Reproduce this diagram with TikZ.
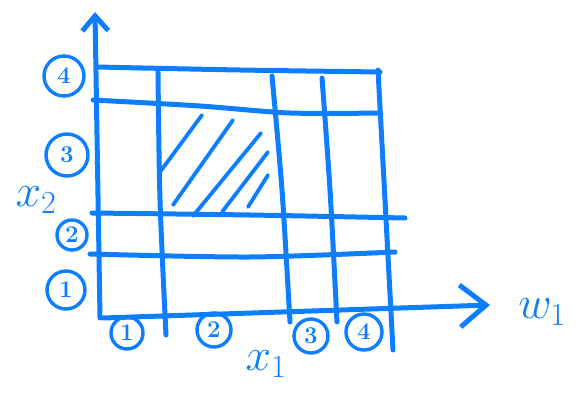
\RequirePackage{fix-cm}
\documentclass[tikz,border=0pt]{standalone}
\usepackage{tikz}
\usetikzlibrary{arrows.meta}
\definecolor{pen}{RGB}{12,126,255}
\begin{document}
\begin{tikzpicture}[x=1pt, y=-1pt, line cap=round, line join=round,
  ink/.style={draw=pen, line width=5pt},
  hatch/.style={draw=pen, line width=3.8pt},
  num/.style={circle, draw=pen, line width=3.4pt, inner sep=0pt, text=pen, font=\fontsize{24}{24}\selectfont\bfseries},
  lbl/.style={text=pen, font=\fontsize{46}{46}\selectfont}]
\useasboundingbox (0,0) rectangle (579,398);
% axes
\coordinate (O) at (100,318);
\coordinate (ytip) at (95,12);
\coordinate (xtip) at (490,305);
\draw[ink, -{Straight Barb[length=15pt, width=26pt]}] (O) -- (ytip);
\draw[ink, -{Straight Barb[length=26pt, width=42pt]}] (103,318) -- (xtip);
% horizontal grid lines
\draw[ink] plot[smooth] coordinates {(96,67) (240,70) (380,72)};
\draw[ink] plot[smooth] coordinates {(93,100) (200,106) (290,113) (380,113)};
\draw[ink] plot[smooth] coordinates {(92,213) (250,215) (405,218)};
\draw[ink] plot[smooth] coordinates {(90,254) (250,257) (395,252)};
% vertical grid lines
\draw[ink] plot[smooth] coordinates {(158,72) (160,200) (166,335)};
\draw[ink] plot[smooth] coordinates {(272,76) (282,190) (290,322)};
\draw[ink] plot[smooth] coordinates {(322,78) (330,190) (337,322)};
\draw[ink] plot[smooth] coordinates {(378,70) (385,200) (393,350)};
% shaded cell
\draw[hatch] (160,172) -- (202,115);
\draw[hatch] (173,205) -- (233,120);
\draw[hatch] (193,216) -- (261,133);
\draw[hatch] (222,212) -- (268,152);
\draw[hatch] (248,207) -- (268,175);
% interval numbers
\node[num, minimum size=32pt] (b1) at (127,333) {1};
\node[num, minimum size=34pt] (b2) at (214,330) {2};
\node[num, minimum size=34pt] (b3) at (311,336) {3};
\node[num, minimum size=36pt] (b4) at (364,332) {4};
\node[num, minimum size=40pt] (l4) at (64,76) {4};
\node[num, minimum size=42pt] (l3) at (67,155) {3};
\node[num, minimum size=30pt] (l2) at (72,235) {2};
\node[num, minimum size=38pt] (l1) at (66,290) {1};
% axis labels
\node[lbl] (xtwo) at (36,200) {$x_2$};
\node[lbl] (xone) at (266,364) {$x_1$};
\node[lbl] (wone) at (542,312) {$w_1$};
\end{tikzpicture}
\end{document}
